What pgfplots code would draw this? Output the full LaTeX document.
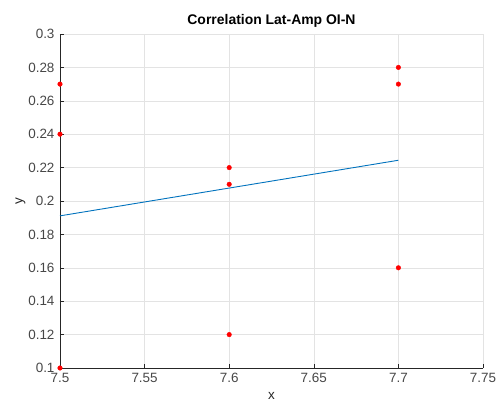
\documentclass[border=0pt]{standalone}
\usepackage{pgfplots}
\pgfplotsset{compat=1.18}
\usepackage{fontspec}
\setmainfont{Liberation Sans}
\definecolor{mblue}{rgb}{0,0.447,0.741}
\definecolor{axgray}{rgb}{0.15,0.15,0.15}
\begin{document}
\begin{tikzpicture}
\begin{axis}[name=ax,
  scale only axis, width=423bp, height=334bp,
  xmin=7.5, xmax=7.75, ymin=0.1, ymax=0.3,
  xtick={7.5,7.55,...,7.76}, ytick={0.1,0.12,...,0.31},
  xticklabels={7.5,7.55,7.6,7.65,7.7,7.75},
  yticklabels={0.1,0.12,0.14,0.16,0.18,0.2,0.22,0.24,0.26,0.28,0.3},
  axis x line*=bottom, axis y line*=left,
  axis line style={axgray, line width=0.7pt, -},
  tick style={axgray, line width=0.5pt},
  tick align=inside, major tick length=4bp,
  grid=major, major grid style={gray!22, line width=0.5pt},
  tick label style={font=\fontsize{13.5}{15}\selectfont, text=axgray!85},
  yticklabel style={xshift=-2bp},
  xticklabel style={yshift=-2bp},
  /pgf/number format/assume math mode=true,
  xlabel={x}, ylabel={y},
  label style={font=\fontsize{13.5}{15}\selectfont, text=axgray},
  xlabel style={yshift=-3bp},
  ylabel style={yshift=-4bp},
  title={\textbf{Correlation Lat-Amp OI-N}},
  title style={font=\fontsize{14}{16}\selectfont, yshift=-3bp},
  clip=false,
]
\addplot[only marks, mark=*, mark size=2.3pt, color=red, mark options={draw=red, fill=red}] coordinates {
(7.5,0.27) (7.5,0.24) (7.5,0.10)
(7.6,0.22) (7.6,0.21) (7.6,0.12)
(7.7,0.28) (7.7,0.27) (7.7,0.16)
};
\addplot[mblue, line width=0.9pt] coordinates {(7.5,0.1911) (7.7,0.2244)};
\end{axis}
\pgfresetboundingbox
\path[use as bounding box] ([shift={(-60bp,-35bp)}]ax.south west) rectangle ([shift={(14bp,34bp)}]ax.north east);
\end{tikzpicture}
\end{document}
